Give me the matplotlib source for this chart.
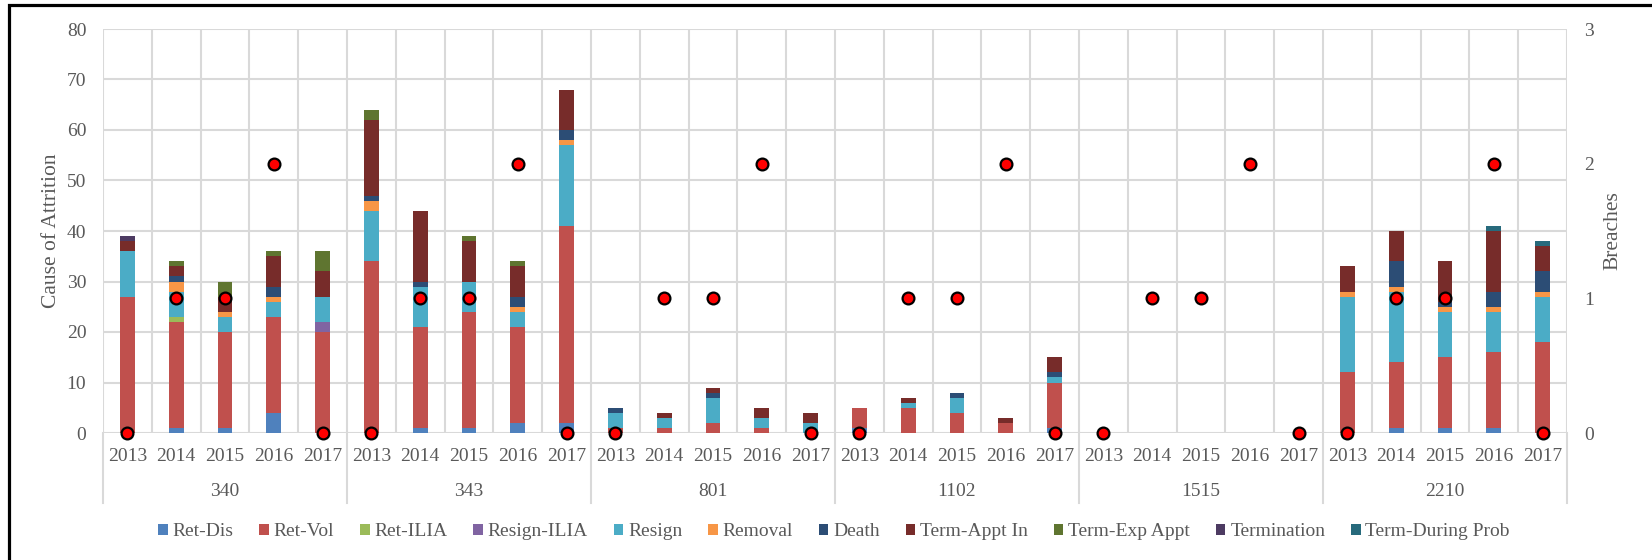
import matplotlib
matplotlib.use("Agg")
import matplotlib.pyplot as plt
import matplotlib.transforms as mtransforms
from matplotlib.patches import Rectangle
import numpy as np

plt.rcParams['font.family'] = ['Liberation Serif', 'DejaVu Serif']

groups = ["340", "343", "801", "1102", "1515", "2210"]
years = ["2013", "2014", "2015", "2016", "2017"]

series_names = ["Ret-Dis", "Ret-Vol", "Ret-ILIA", "Resign-ILIA", "Resign", "Removal",
                "Death", "Term-Appt In", "Term-Exp Appt", "Termination", "Term-During Prob"]
colors = ["#4F81BD", "#C0504D", "#9BBB59", "#8064A2", "#4BACC6", "#F79646",
          "#2C4D75", "#772C2A", "#5F7530", "#4D3B62", "#276A7C"]

# order: 340 (2013-2017), 343, 801, 1102, 1515, 2210
ret_dis      = [0, 1, 1, 4, 0,   0, 1, 1, 2, 2,   0, 0, 0, 0, 0,   1, 0, 0, 0, 1,   0, 0, 0, 0, 0,   0, 1, 1, 1, 0]
ret_vol      = [27, 21, 19, 19, 20,  34, 20, 23, 19, 39,  1, 1, 2, 1, 0,  4, 5, 4, 2, 9,  0, 0, 0, 0, 0,  12, 13, 14, 15, 18]
ret_ilia     = [0, 1, 0, 0, 0,   0, 0, 0, 0, 0,   0, 0, 0, 0, 0,   0, 0, 0, 0, 0,   0, 0, 0, 0, 0,   0, 0, 0, 0, 0]
resign_ilia  = [0, 0, 0, 0, 2,   0, 0, 0, 0, 0,   0, 0, 0, 0, 0,   0, 0, 0, 0, 0,   0, 0, 0, 0, 0,   0, 0, 0, 0, 0]
resign       = [9, 5, 3, 3, 5,   10, 8, 6, 3, 16,  3, 2, 5, 2, 2,  0, 1, 3, 0, 1,  0, 0, 0, 0, 0,  15, 14, 9, 8, 9]
removal      = [0, 2, 1, 1, 0,   2, 0, 0, 1, 1,   0, 0, 0, 0, 0,   0, 0, 0, 0, 0,   0, 0, 0, 0, 0,   1, 1, 1, 1, 1]
death        = [0, 1, 0, 2, 0,   1, 1, 0, 2, 2,   1, 0, 1, 0, 0,   0, 0, 1, 0, 1,   0, 0, 0, 0, 0,   0, 5, 1, 3, 4]
term_appt_in = [2, 2, 3, 6, 5,   15, 14, 8, 6, 8,  0, 1, 1, 2, 2,  0, 1, 0, 1, 3,  0, 0, 0, 0, 0,  5, 6, 8, 12, 5]
term_exp     = [0, 1, 3, 1, 4,   2, 0, 1, 1, 0,   0, 0, 0, 0, 0,   0, 0, 0, 0, 0,   0, 0, 0, 0, 0,   0, 0, 0, 0, 0]
termination  = [1, 0, 0, 0, 0,   0, 0, 0, 0, 0,   0, 0, 0, 0, 0,   0, 0, 0, 0, 0,   0, 0, 0, 0, 0,   0, 0, 0, 0, 0]
term_prob    = [0, 0, 0, 0, 0,   0, 0, 0, 0, 0,   0, 0, 0, 0, 0,   0, 0, 0, 0, 0,   0, 0, 0, 0, 0,   0, 0, 0, 1, 1]

breaches = [0, 1, 1, 2, 0,  0, 1, 1, 2, 0,  0, 1, 1, 2, 0,  0, 1, 1, 2, 0,  0, 1, 1, 2, 0,  0, 1, 1, 2, 0]

series = [ret_dis, ret_vol, ret_ilia, resign_ilia, resign, removal, death,
          term_appt_in, term_exp, termination, term_prob]

TXT = "#595959"
GRID = "#D9D9D9"
FS = 14

W, H = 1652, 560
fig = plt.figure(figsize=(W / 100, H / 100), dpi=100)
L, R, T, B = 103, 1567, 29, 433
ax = fig.add_axes([L / W, 1 - B / H, (R - L) / W, (B - T) / H])

n = len(breaches)
x = np.arange(n)
bottom = np.zeros(n)
for name, vals, c in zip(series_names, series, colors):
    v = np.array(vals, dtype=float)
    ax.bar(x, v, width=0.3, bottom=bottom, color=c, label=name, linewidth=0, zorder=3)
    bottom += v

ax.set_xlim(-0.5, n - 0.5)
ax.set_ylim(0, 80)
ax.set_yticks(range(0, 81, 10))
ax.yaxis.grid(True, color=GRID, linewidth=1.5, zorder=0)
for k in range(n + 1):
    ax.axvline(k - 0.5, color=GRID, linewidth=1.5, zorder=0)
for s in ax.spines.values():
    s.set_visible(False)
ax.tick_params(axis='y', length=0, labelsize=FS, labelcolor=TXT, pad=12)
ax.set_xticks(x)
ax.set_xticklabels(years * len(groups))
ax.tick_params(axis='x', length=0, labelsize=FS, labelcolor=TXT, pad=11)
ax.set_ylabel("Cause of Attrition", fontsize=15.5, color=TXT)
ax.yaxis.set_label_coords((61 - L) / (R - L), 0.5)

trans = mtransforms.blended_transform_factory(ax.transData, ax.transAxes)
sep_bottom = -(503 - B) / (B - T)
for gi in range(len(groups) + 1):
    xs = gi * 5 - 0.5
    ax.plot([xs, xs], [0, sep_bottom], transform=trans, color=GRID, lw=1.5, clip_on=False, zorder=1)
for gi, g in enumerate(groups):
    ax.text(gi * 5 + 2, -(492 - B) / (B - T), g, transform=trans, ha='center', va='center',
            fontsize=FS, color=TXT)

ax2 = ax.twinx()
ax2.set_ylim(0, 3)
ax2.set_yticks([0, 1, 2, 3])
for s in ax2.spines.values():
    s.set_visible(False)
ax2.tick_params(axis='y', length=0, labelsize=FS, labelcolor=TXT, pad=12.5)
ax2.plot(x, breaches, linestyle='none', marker='o', markersize=8.5, markerfacecolor='#FF0000',
         markeredgecolor='black', markeredgewidth=1.6, zorder=5, clip_on=False, label="Breaches")
ax2.set_ylabel("Breaches", fontsize=15.5, color=TXT)
ax2.yaxis.set_label_coords((1603 - L) / (R - L), 0.5)

handles, labels = ax.get_legend_handles_labels()
leg_x0, leg_x1 = 158, 1510
leg = fig.legend(handles, labels, loc='center',
                 bbox_to_anchor=(leg_x0 / W, 1 - 544 / H, (leg_x1 - leg_x0) / W, 24 / H),
                 mode='expand', borderaxespad=0, borderpad=0,
                 ncol=len(series_names), frameon=False, fontsize=FS, handlelength=0.5,
                 handleheight=0.5, handletextpad=0.25, columnspacing=1.0, labelcolor=TXT)

fig.add_artist(Rectangle((9 / W, -0.2), 1.5, 1.2 - 5 / H, transform=fig.transFigure,
                         fill=False, edgecolor='black', linewidth=2.3))

fig.savefig("out.png", dpi=100)
